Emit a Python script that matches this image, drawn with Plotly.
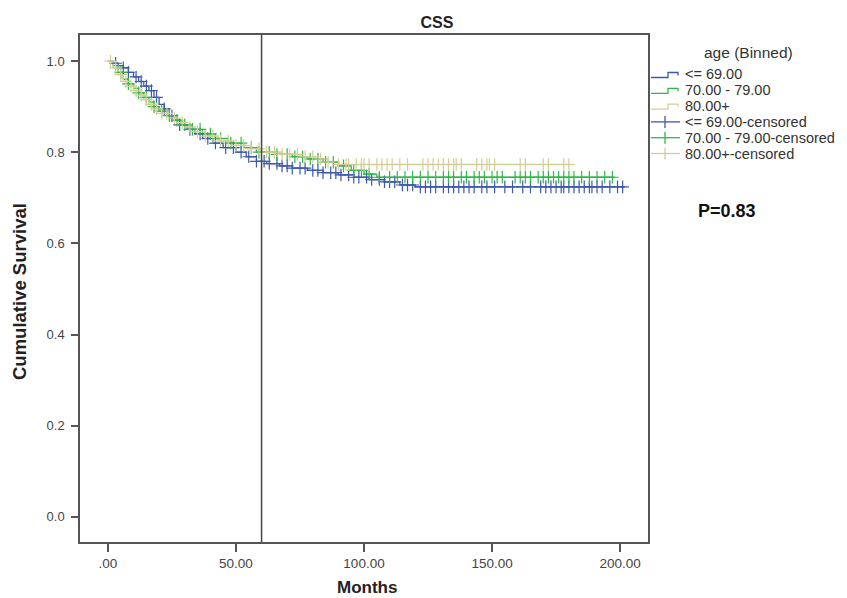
import plotly.graph_objects as go

# ---- data ----
groups = ["<= 69.00", "70.00 - 79.00", "80.00+"]
colors = ["#3E58AC", "#2EB848", "#D3CE97"]

blue_t = [0, 2, 4, 6, 8, 10, 12, 14, 16, 18, 20, 22, 24, 26, 28, 31, 34, 37, 41, 45, 50, 54, 58,
          62, 67, 72, 78, 84, 90, 96, 102, 108, 114, 120, 202]
blue_s = [1.0, 0.995, 0.99, 0.985, 0.975, 0.965, 0.955, 0.945, 0.935, 0.92, 0.905, 0.895, 0.88,
          0.87, 0.86, 0.85, 0.84, 0.83, 0.82, 0.81, 0.80, 0.79, 0.78, 0.775, 0.77, 0.765, 0.76,
          0.755, 0.75, 0.745, 0.74, 0.735, 0.728, 0.724, 0.724]

green_t = [0, 2, 4, 6, 8, 10, 12, 14, 16, 18, 20, 23, 26, 29, 33, 37, 42, 47, 53, 58, 66, 72, 78,
           84, 90, 95, 100, 105, 198]
green_s = [1.0, 0.99, 0.975, 0.96, 0.95, 0.94, 0.93, 0.92, 0.91, 0.90, 0.89, 0.88, 0.87, 0.86,
           0.85, 0.84, 0.83, 0.82, 0.81, 0.80, 0.795, 0.79, 0.785, 0.778, 0.77, 0.76, 0.752,
           0.745, 0.745]

tan_t = [0, 2, 4, 6, 8, 10, 12, 14, 16, 18, 21, 24, 27, 30, 34, 38, 43, 48, 54, 60, 68, 75, 81,
         86, 90, 181]
tan_s = [1.0, 0.985, 0.97, 0.955, 0.945, 0.935, 0.925, 0.915, 0.905, 0.895, 0.885, 0.875, 0.865,
         0.855, 0.845, 0.835, 0.825, 0.815, 0.808, 0.80, 0.795, 0.79, 0.785, 0.778, 0.773, 0.773]

blue_cens = [3, 6, 8, 11, 13, 15, 17, 19, 22, 25, 28, 32, 36, 39, 42, 46, 49, 52, 55, 58,
             61, 63, 66, 68, 70, 72, 75, 77, 80, 82, 84, 87, 89, 91, 94, 96, 98, 101, 103, 106,
             108, 110, 112, 115, 117, 119, 122, 124, 126, 128, 131, 133, 135, 137, 139, 141,
             143, 146, 148, 151, 155, 158, 162, 165, 169, 171, 173, 175, 177, 178, 180, 182,
             184, 186, 188, 189, 191, 193, 196, 199, 201]
green_cens = [5, 8, 12, 15, 18, 21, 24, 27, 30, 33, 36, 40, 44, 48, 52, 56, 59, 63, 66, 70, 73,
              76, 79, 82, 85, 88, 92, 96, 99, 102, 106, 110, 113, 116, 119, 122, 125, 128, 131,
              133, 135, 138, 140, 143, 145, 147, 150, 152, 154, 159, 161, 163, 165, 168, 170,
              172, 174, 176, 178, 180, 182, 185, 188, 191, 194, 197]
tan_cens = [1, 3, 5, 7, 9, 11, 13, 15, 17, 19, 21, 23, 26, 29, 32, 35, 38, 41, 44, 47, 50, 53,
            56, 59, 62, 65, 68, 71, 74, 77, 80, 83, 86, 90, 93, 94, 97, 99, 100, 102, 105, 107,
            109, 111, 114, 117, 123, 125, 127, 129, 131, 133, 135, 136, 138, 144, 146, 148, 149,
            151, 161, 163, 170, 172, 178, 180]

x_ticks = [0, 50, 100, 150, 200]
x_ticktext = [".00", "50.00", "100.00", "150.00", "200.00"]
y_ticks = [0.0, 0.2, 0.4, 0.6, 0.8, 1.0]
y_ticktext = ["0.0", "0.2", "0.4", "0.6", "0.8", "1.0"]
ref_month = 60
p_text = "P=0.83"
legend_title = "age (Binned)"
legend_labels = groups + [g + "-censored" for g in groups]

# ---- layout geometry (pixels) ----
W, H = 847, 598
L, R, T, B = 80, 648, 35, 542


def px(xpix):
    return (xpix - L) / (R - L)


def py(ypix):
    return (B - ypix) / (B - T)


def surv_at(ts, ss, t):
    val = ss[0]
    for ti, si in zip(ts, ss):
        if ti <= t:
            val = si
    return val


curves = [(blue_t, blue_s, blue_cens), (green_t, green_s, green_cens), (tan_t, tan_s, tan_cens)]

fig = go.Figure()
for (ts, ss, cs), name, col in zip(curves, groups, colors):
    fig.add_trace(go.Scatter(x=ts, y=ss, mode="lines", line=dict(color=col, width=1.3, shape="hv"),
                             name=name, showlegend=False, hoverinfo="skip"))
for (ts, ss, cs), name, col in zip(curves, groups, colors):
    fig.add_trace(go.Scatter(x=cs, y=[surv_at(ts, ss, c) for c in cs], mode="markers",
                             marker=dict(symbol="cross-thin", size=9,
                                         line=dict(color=col, width=1.2)),
                             name=name + "-censored", showlegend=False))

shapes = [dict(type="line", x0=ref_month, x1=ref_month, y0=0, y1=1, yref="paper", xref="x",
               line=dict(color="#444444", width=1.5))]
annotations = []

# ---- manual legend ----
leg_y = [74.5, 90.3, 106.1, 121.9, 137.7, 153.5]
leg_cols = colors + colors
for i, (lab, col, yc) in enumerate(zip(legend_labels, leg_cols, leg_y)):
    if i < 3:
        path = "M {} {} L {} {} L {} {} L {} {} L {} {}".format(
            px(651), py(yc + 3), px(668), py(yc + 3), px(668), py(yc - 2),
            px(678), py(yc - 2), px(678), py(yc + 1))
        shapes.append(dict(type="path", path=path, xref="paper", yref="paper",
                           line=dict(color=col, width=1.3)))
    else:
        shapes.append(dict(type="line", x0=px(651), x1=px(680), y0=py(yc), y1=py(yc),
                           xref="paper", yref="paper", line=dict(color=col, width=1.3)))
        shapes.append(dict(type="line", x0=px(665), x1=px(665), y0=py(yc - 6), y1=py(yc + 6),
                           xref="paper", yref="paper", line=dict(color=col, width=1.3)))
    annotations.append(dict(text=lab, x=px(683), y=py(yc), xref="paper", yref="paper",
                            xanchor="left", yanchor="middle", showarrow=False,
                            font=dict(size=14.5, color="#333333")))
annotations.append(dict(text=legend_title, x=px(748), y=py(53), xref="paper", yref="paper",
                        xanchor="center", yanchor="middle", showarrow=False,
                        font=dict(size=15.5, color="#333333")))
annotations.append(dict(text="<b>" + p_text + "</b>", x=px(727), y=py(211),
                        xref="paper", yref="paper", xanchor="center", yanchor="middle",
                        showarrow=False, font=dict(size=18, color="#111111")))
annotations.append(dict(text="<b>Cumulative Survival</b>", x=px(20), y=py(292),
                        xref="paper", yref="paper", xanchor="center", yanchor="middle",
                        textangle=-90, showarrow=False, font=dict(size=18.5, color="#222222")))
annotations.append(dict(text="<b>Months</b>", x=px(367), y=py(587),
                        xref="paper", yref="paper", xanchor="center", yanchor="middle",
                        showarrow=False, font=dict(size=17, color="#222222")))

axis_col = "#555555"
fig.update_layout(
    width=W, height=H,
    margin=dict(l=L, r=W - R, t=T, b=H - B, autoexpand=False),
    paper_bgcolor="white", plot_bgcolor="white", showlegend=False,
    font=dict(family="Arial, Liberation Sans, sans-serif", color="#333333"),
    title=dict(text="<b>CSS</b>", x=437 / W, xanchor="center", xref="container",
               y=1 - 22 / H, yanchor="middle", yref="container",
               font=dict(size=16, color="#222222")),
    xaxis=dict(range=[-10.9, 210.9], tickvals=x_ticks, ticktext=x_ticktext,
               ticks="outside", ticklen=8, tickwidth=1.5, tickcolor=axis_col,
               showgrid=False, zeroline=False, showline=True, linecolor=axis_col,
               linewidth=1.5, mirror=True, tickfont=dict(size=13.5, color="#444444"),
               automargin=False),
    yaxis=dict(range=[-0.055, 1.057], tickvals=y_ticks, ticktext=y_ticktext,
               ticks="outside", ticklen=7, tickwidth=1.5, tickcolor=axis_col,
               showgrid=False, zeroline=False, showline=True, linecolor=axis_col,
               linewidth=1.5, mirror=True, tickfont=dict(size=13, color="#444444"),
               ticklabelstandoff=4, automargin=False),
    shapes=shapes,
    annotations=annotations,
)

fig.write_html("out.html")
